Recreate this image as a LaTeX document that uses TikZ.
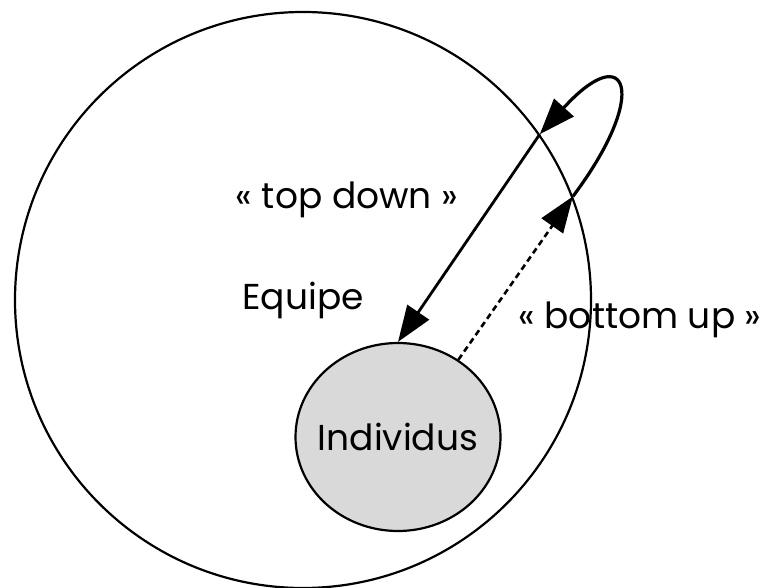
\documentclass[tikz,border=0pt]{standalone}
\usepackage{fontspec}
\setmainfont{Poppins}
\usepackage{tikz}
\usetikzlibrary{arrows.meta,shapes.geometric}
\definecolor{IndivFill}{HTML}{D9D9D9}

\begin{document}
\begin{tikzpicture}[x=1pt,y=-1pt,>={Triangle[length=36pt,width=26pt]},
  font=\fontsize{36}{42}\selectfont,
  group/.style={circle,draw,line width=2.2pt,minimum size=576pt,inner sep=0pt},
  member/.style={ellipse,draw,fill=IndivFill,line width=2.2pt,
    minimum width=205pt,minimum height=188pt,inner sep=0pt}]
  \useasboundingbox (0,0) rectangle (776,588);
  \node[group] (equipe) at (303,300) {Equipe};
  \node[member,label=center:Individus] (indiv) at (398,437) {};
  % top down
  \draw[->,line width=2.8pt] (equipe.35) -- (indiv.north);
  % bottom up
  \draw[->,line width=2.6pt,dash pattern=on 6pt off 4pt] (indiv.52) -- (equipe.21);
  \draw[->,line width=3.2pt] (equipe.21) .. controls +(78,-104) and +(87,-96) .. (equipe.35);
  \node (topdown) at (347,200) {« top down »};
  \node (bottomup) at (640,320) {« bottom up »};
\end{tikzpicture}
\end{document}
